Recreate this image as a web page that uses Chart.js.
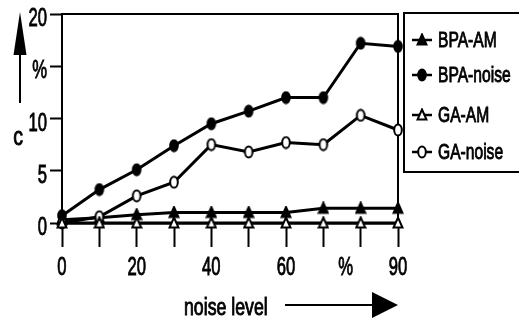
<!DOCTYPE html>
<html>
<head>
<meta charset="utf-8">
<script src="https://cdn.jsdelivr.net/npm/chart.js@4.4.0/dist/chart.umd.min.js"></script>
<style>
  html, body { margin:0; padding:0; background:#fff; }
  canvas { display:block; }
</style>
</head>
<body>
<canvas id="chart" width="519" height="323"></canvas>
<script>
const noiseLevels = [0, 10, 20, 30, 40, 50, 60, 70, 80, 90];
const bpaAM    = [0.3, 0.5, 0.8, 1.0, 1.0, 1.0, 1.0, 1.4, 1.4, 1.4];
const bpaNoise = [0.7, 3.2, 5.1, 7.4, 9.5, 10.7, 12.0, 12.0, 17.2, 16.9];
const gaAM     = [0, 0, 0, 0, 0, 0, 0, 0, 0, 0];
const gaNoise  = [0, 0.6, 2.6, 3.9, 7.5, 6.8, 7.7, 7.5, 10.3, 8.9];

// the "%" on the x axis sits a bit left of the 80 tick in the original
const xTickLabels = [[0,"0"], [20,"20"], [40,"40"], [60,"60"], [76,"%"], [90,"90"]];
const yTickLabels = [[0,"0"], [5,"5"], [10,"10"], [15,"%"], [20,"20"]];
const legendNames = ["BPA-AM", "BPA-noise", "GA-AM", "GA-noise"];

const FONT = '"Liberation Sans", Arial, sans-serif';

// markers in the scan are a little taller than wide, so draw them as small images
function markerImg(shape, filled){
  const c = document.createElement("canvas");
  c.width = 12; c.height = 14;
  const g = c.getContext("2d");
  g.fillStyle = filled ? "#000" : "#fff";
  g.strokeStyle = "#000"; g.lineWidth = 2;
  g.beginPath();
  if(shape === "triangle"){
    g.moveTo(6, 1.5); g.lineTo(10.5, 11.5); g.lineTo(1.5, 11.5); g.closePath();
  } else {
    g.ellipse(6, 7, 3.8, 5.5, 0, 0, Math.PI*2);
  }
  g.fill(); g.stroke();
  return c;
}
const mk = {
  triFill: markerImg("triangle", true),
  triOpen: markerImg("triangle", false),
  dotFill: markerImg("circle", true),
  dotOpen: markerImg("circle", false),
};

function pts(ys){ return noiseLevels.map((x,i)=>({x, y: ys[i]})); }

function series(label, ys, img){
  return {
    label, data: pts(ys),
    borderColor:"#000", borderWidth:3, tension:0, clip:false,
    pointStyle: img, pointRadius: 5,
  };
}

// narrow, slightly heavy text like the scanned condensed face
function text(ctx, str, x, y, size, sx, align, base){
  ctx.save();
  ctx.translate(x, y);
  ctx.scale(sx, 1);
  ctx.font = size + "px " + FONT;
  ctx.textAlign = align || "left";
  ctx.textBaseline = base || "alphabetic";
  ctx.fillStyle = "#000"; ctx.strokeStyle = "#000"; ctx.lineWidth = 0.9;
  ctx.fillText(str, 0, 0);
  ctx.strokeText(str, 0, 0);
  ctx.restore();
}

const decor = {
  id: "decor",
  afterDraw(chart){
    const ctx = chart.ctx;
    const xs = chart.scales.x, ys = chart.scales.y;
    ctx.save();
    ctx.strokeStyle = "#000"; ctx.fillStyle = "#000"; ctx.lineWidth = 2;

    // tick labels
    xTickLabels.forEach(([v, s])=> text(ctx, s, xs.getPixelForValue(v), 268, 26, 0.64, "center", "middle"));
    yTickLabels.forEach(([v, s])=> text(ctx, s, 47, ys.getPixelForValue(v) + 5, 26, 0.64, "right", "middle"));

    // legend box
    ctx.strokeRect(404, 13, 130, 159);
    const icons = [mk.triFill, mk.dotFill, mk.triOpen, mk.dotOpen];
    const rows = [40, 75, 115, 152];
    legendNames.forEach((name, i)=>{
      const y = rows[i];
      ctx.lineWidth = 2.5;
      ctx.beginPath(); ctx.moveTo(412, y); ctx.lineTo(432, y); ctx.stroke();
      ctx.drawImage(icons[i], 422 - 6, y - 7);
      text(ctx, name, 438, y + 1, 22, 0.71, "left", "middle");
    });

    // y title with arrow
    ctx.lineWidth = 2;
    ctx.beginPath(); ctx.moveTo(20, 103); ctx.lineTo(20, 50); ctx.stroke();
    ctx.beginPath(); ctx.moveTo(20, 12); ctx.lineTo(26.5, 55); ctx.lineTo(13.5, 55); ctx.closePath(); ctx.fill();
    text(ctx, "c", 18, 145, 25, 0.78, "center");

    // x title with arrow
    text(ctx, "noise level", 184, 315, 23, 0.77, "left");
    ctx.lineWidth = 2;
    ctx.beginPath(); ctx.moveTo(285, 305); ctx.lineTo(375, 305); ctx.stroke();
    ctx.beginPath(); ctx.moveTo(398, 305); ctx.lineTo(372, 292); ctx.lineTo(372, 318); ctx.closePath(); ctx.fill();
    ctx.restore();
  }
};

new Chart(document.getElementById("chart"), {
  type: "line",
  data: {
    datasets: [
      series("GA-AM", gaAM, mk.triOpen),
      series("GA-noise", gaNoise, mk.dotOpen),
      series("BPA-AM", bpaAM, mk.triFill),
      series("BPA-noise", bpaNoise, mk.dotFill),
    ]
  },
  options: {
    responsive:false, animation:false, devicePixelRatio:1,
    layout:{ padding:{ top:14, right:121, left:0, bottom:0 } },
    plugins:{ legend:{ display:false }, tooltip:{ enabled:false } },
    scales:{
      x:{ type:"linear", position:"bottom", min:0, max:90,
        ticks:{ stepSize:10, autoSkip:false, display:false },
        grid:{ drawOnChartArea:false, tickLength:24, tickWidth:2, color:"#000" },
        border:{ display:true, color:"#000", width:2.5 },
        afterFit:(s)=>{ s.height = 100; }
      },
      y:{ min:0, max:20,
        ticks:{ stepSize:5, display:false },
        grid:{ drawOnChartArea:false, tickLength:12, tickWidth:2, color:"#000" },
        border:{ display:true, color:"#000", width:2 },
        afterFit:(s)=>{ s.width = 62; }
      },
      x2:{ type:"linear", position:"top", min:0, max:1,
        ticks:{ display:false }, grid:{ display:false },
        border:{ display:true, color:"#000", width:2 },
        afterFit:(s)=>{ s.height = 0; }
      },
      y2:{ type:"linear", position:"right", min:0, max:1,
        ticks:{ display:false }, grid:{ display:false },
        border:{ display:true, color:"#000", width:2 },
        afterFit:(s)=>{ s.width = 0; }
      }
    }
  },
  plugins:[decor]
});
</script>
</body>
</html>
